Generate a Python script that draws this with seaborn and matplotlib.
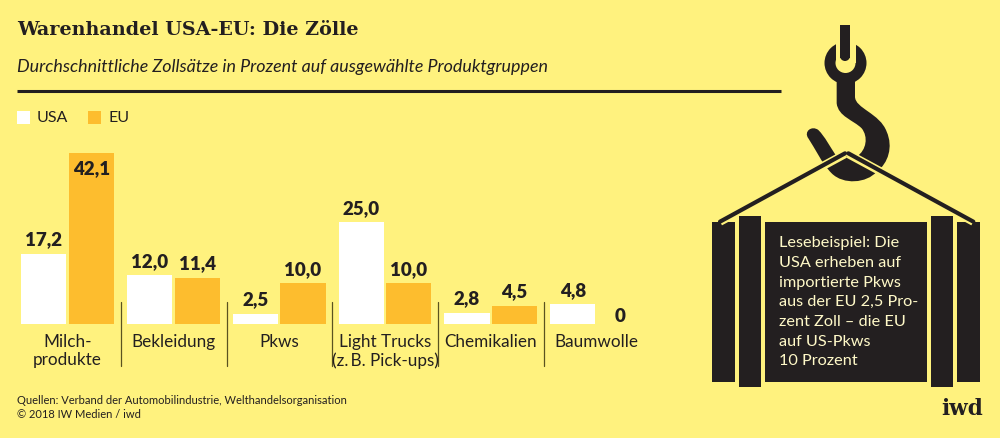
import matplotlib
matplotlib.use('Agg')
import matplotlib.pyplot as plt
from matplotlib.patches import Rectangle, Circle, PathPatch
from matplotlib.path import Path
import pandas as pd
import seaborn as sns

# 데이터
categories = ['Milch-\nprodukte', 'Bekleidung', 'Pkws', 'Light Trucks\n(z.\u2009B. Pick-ups)', 'Chemikalien', 'Baumwolle']
usa_values = [17.2, 12.0, 2.5, 25.0, 2.8, 4.8]
eu_values = [42.1, 11.4, 10.0, 10.0, 4.5, 0.0]
series_names = ['USA', 'EU']

BG = '#FFF27E'
DARK = '#231F20'
ORANGE = '#FDBD2E'

sns.set_theme(style='white')
plt.rcParams['font.family'] = ['Lato', 'DejaVu Sans']

df = pd.DataFrame({'kategorie': categories * 2,
                   'land': ['USA'] * 6 + ['EU'] * 6,
                   'zoll': usa_values + eu_values})

W, H = 1000, 438
fig = plt.figure(figsize=(10, 4.38), dpi=100, facecolor=BG)

# 배경 장식용 축 (픽셀 좌표)
bg = fig.add_axes([0, 0, 1, 1])
bg.set_xlim(0, W)
bg.set_ylim(H, 0)
bg.axis('off')

# 막대 축
ax = fig.add_axes([14.6 / W, (H - 324) / H, 635 / W, 180 / H])
ax.patch.set_alpha(0)
sns.barplot(data=df, x='kategorie', y='zoll', hue='land', hue_order=series_names,
            palette=['#FFFFFF', ORANGE], width=0.9, gap=0.05, saturation=1,
            linewidth=0, ax=ax, legend=False)
ax.set_xlim(-0.5, 5.5)
ax.set_ylim(0, 44.3)
ax.set_xlabel('')
ax.set_ylabel('')
ax.set_yticks([])
sns.despine(ax=ax, left=True, bottom=True)
ax.tick_params(axis='x', length=0, pad=7, labelsize=12.3, labelcolor=DARK)
for t in ax.get_xticklabels():
    t.set_linespacing(1.2)
    t.set_verticalalignment('top')

for cont in ax.containers:
    for rect in cont:
        v = rect.get_height()
        txt = f'{v:.1f}'.replace('.', ',') if v > 0 else '0'
        if v > 40:
            off, va = -5.5, 'top'
        elif v == 0:
            off, va = -1, 'bottom'
        else:
            off, va = 4, 'bottom'
        ax.annotate(txt, (rect.get_x() + rect.get_width() / 2, v),
                    xytext=(0, off), textcoords='offset points',
                    ha='center', va=va, fontsize=13.5, fontweight='heavy', color=DARK)

# 구분선
for x in [120.7, 226.7, 332.3, 438, 544]:
    bg.plot([x, x], [302, 366], color='#5a5320', lw=0.9)

# 제목
bg.text(17, 30, 'Warenhandel USA-EU: Die Zölle', family=['DejaVu Serif'], fontweight='bold',
        fontsize=13.75, color=DARK, va='center')
bg.text(17, 67, 'Durchschnittliche Zollsätze in Prozent auf ausgewählte Produktgruppen',
        fontsize=12.85, style='italic', color=DARK, va='center')
bg.plot([17, 781], [90.5, 90.5], color=DARK, lw=2.2, solid_capstyle='butt')

# 범례
bg.add_patch(Rectangle((17, 111), 13, 13, color='#FFFFFF', lw=0))
bg.text(37, 118, 'USA', fontsize=11.5, color=DARK, va='center')
bg.add_patch(Rectangle((88, 111), 12.5, 13, color=ORANGE, lw=0))
bg.text(108, 118, 'EU', fontsize=11.5, color=DARK, va='center')

# 출처
bg.text(17, 400, 'Quellen: Verband der Automobilindustrie, Welthandelsorganisation',
        fontsize=8, color=DARK, va='center')
bg.text(17, 415, '© 2018 IW Medien / iwd', fontsize=8, color=DARK, va='center')


def zx(v):
    return 690 + v / 3


def zy(v):
    return v / 3


# 후크
hook = [
    (Path.MOVETO, (440, 240)),
    (Path.LINETO, (440, 310)),
    (Path.CURVE4, (445, 350)), (Path.CURVE4, (490, 360)), (Path.CURVE4, (515, 385)),
    (Path.CURVE4, (535, 410)), (Path.CURVE4, (530, 450)), (Path.CURVE4, (500, 470)),
    (Path.LINETO, (470, 470)),
    (Path.LINETO, (440, 470)),
    (Path.CURVE4, (420, 440)), (Path.CURVE4, (405, 410)), (Path.CURVE4, (385, 390)),
    (Path.CURVE4, (365, 375)), (Path.CURVE4, (340, 395)), (Path.CURVE4, (355, 415)),
    (Path.CURVE4, (375, 445)), (Path.CURVE4, (395, 490)), (Path.CURVE4, (425, 520)),
    (Path.CURVE4, (460, 555)), (Path.CURVE4, (530, 550)), (Path.CURVE4, (560, 515)),
    (Path.CURVE4, (595, 490)), (Path.CURVE4, (610, 440)), (Path.CURVE4, (590, 395)),
    (Path.CURVE4, (570, 340)), (Path.CURVE4, (495, 325)), (Path.CURVE4, (495, 290)),
    (Path.LINETO, (495, 240)),
    (Path.CLOSEPOLY, (440, 240)),
]
codes = [c for c, _ in hook]
verts = [(zx(p[0]), zy(p[1])) for _, p in hook]
bg.add_patch(PathPatch(Path(verts, codes), fc=DARK, ec='none'))
bg.add_patch(Circle((845.5, 63), 21, fc=DARK, ec='none'))
bg.add_patch(Circle((845.5, 63), 10, fc=BG, ec='none'))
bg.add_patch(Rectangle((835.5, 40), 20, 23, fc=BG, ec='none'))
bg.add_patch(Rectangle((840, 25), 10, 33, fc=DARK, ec='none'))
bg.add_patch(Circle((845, 56), 5, fc=DARK, ec='none'))

# 슬링
for x0, x1 in [(465, 90), (475, 850)]:
    bg.plot([zx(x0), zx(x1)], [zy(462), zy(665)], color=BG, lw=6, solid_capstyle='butt')
    bg.plot([zx(x0), zx(x1)], [zy(460), zy(665)], color=DARK, lw=3, solid_capstyle='round')

# 화물
for x0, x1, y0, y1 in [(67, 135, 665, 1145), (147, 214, 647, 1162), (226, 711, 665, 1145),
                       (722, 790, 647, 1162), (801, 869, 665, 1145)]:
    bg.add_patch(Rectangle((zx(x0), zy(y0)), (x1 - x0) / 3, (y1 - y0) / 3, fc=DARK, ec='none'))

lese_lines = ['Lesebeispiel: Die', 'USA erheben auf', 'importierte Pkws', 'aus der EU 2,5 Pro-',
              'zent Zoll – die EU', 'auf US-Pkws', '10 Prozent']
for i, line in enumerate(lese_lines):
    bg.text(779, 243.5 + i * 19.6, line, fontsize=11.7, color='#FFF9C8', va='center')

bg.text(983, 409, 'iwd', family=['DejaVu Serif'], fontweight='bold', fontsize=15.5,
        color=DARK, ha='right', va='center')

fig.savefig('out.png', dpi=100, facecolor=BG)
